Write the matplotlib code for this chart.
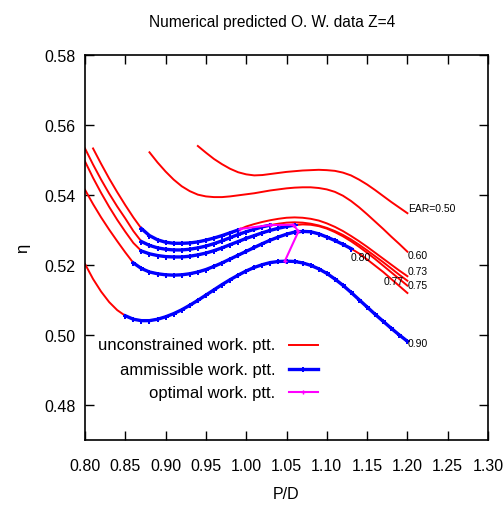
import matplotlib
matplotlib.use("Agg")
import matplotlib.pyplot as plt
from matplotlib import font_manager
from matplotlib.lines import Line2D
import numpy as np

# ---------------- data ----------------
# EAR = 0.50
pd_050 = [0.94, 0.95, 0.96, 0.97, 0.98, 0.99, 1.00, 1.01, 1.02, 1.03, 1.04, 1.05, 1.06, 1.07,
          1.08, 1.09, 1.10, 1.11, 1.12, 1.13, 1.14, 1.15, 1.16, 1.17, 1.18, 1.19, 1.20]
eta_050 = [0.5540, 0.5521, 0.5503, 0.5488, 0.5475, 0.5465, 0.5459, 0.5456, 0.5457, 0.5460,
           0.5463, 0.5466, 0.5468, 0.5470, 0.5471, 0.5472, 0.5471, 0.5469, 0.5464, 0.5456,
           0.5444, 0.5430, 0.5414, 0.5397, 0.5380, 0.5364, 0.5348]

# EAR = 0.60
pd_060 = [0.88, 0.89, 0.90, 0.91, 0.92, 0.93, 0.94, 0.95, 0.96, 0.97, 0.98, 0.99, 1.00, 1.01,
          1.02, 1.03, 1.04, 1.05, 1.06, 1.07, 1.08, 1.09, 1.10, 1.11, 1.12, 1.13, 1.14, 1.15,
          1.16, 1.17, 1.18, 1.19, 1.20]
eta_060 = [0.5522, 0.5493, 0.5467, 0.5444, 0.5425, 0.5411, 0.5401, 0.5396, 0.5394, 0.5394,
           0.5396, 0.5399, 0.5402, 0.5405, 0.5409, 0.5413, 0.5416, 0.5419, 0.5421, 0.5422,
           0.5422, 0.5420, 0.5416, 0.5409, 0.5398, 0.5383, 0.5365, 0.5345, 0.5324, 0.5303,
           0.5281, 0.5260, 0.5238]

pd_full = [0.80, 0.81, 0.82, 0.83, 0.84, 0.85, 0.86, 0.87, 0.88, 0.89, 0.90, 0.91, 0.92, 0.93,
           0.94, 0.95, 0.96, 0.97, 0.98, 0.99, 1.00, 1.01, 1.02, 1.03, 1.04, 1.05, 1.06, 1.07,
           1.08, 1.09, 1.10, 1.11, 1.12, 1.13, 1.14, 1.15, 1.16, 1.17, 1.18, 1.19, 1.20]

# EAR = 0.73 (starts at 0.81)
eta_073 = [np.nan, 0.5533, 0.5489, 0.5447, 0.5408, 0.5371, 0.5336, 0.5304, 0.5284, 0.5272,
           0.5265, 0.5262, 0.5262, 0.5263, 0.5266, 0.5271, 0.5277, 0.5284, 0.5292, 0.5300,
           0.5310, 0.5317, 0.5323, 0.5328, 0.5332, 0.5335, 0.5336, 0.5335, 0.5332, 0.5327,
           0.5319, 0.5309, 0.5297, 0.5283, 0.5268, 0.5252, 0.5235, 0.5218, 0.5201, 0.5184,
           0.5168]
# EAR = 0.75
eta_075 = [0.5533, 0.5487, 0.5444, 0.5404, 0.5367, 0.5333, 0.5297, 0.5267, 0.5256, 0.5249,
           0.5245, 0.5243, 0.5243, 0.5245, 0.5249, 0.5254, 0.5261, 0.5269, 0.5278, 0.5287,
           0.5295, 0.5302, 0.5309, 0.5314, 0.5318, 0.5321, 0.5322, 0.5321, 0.5318, 0.5313,
           0.5306, 0.5297, 0.5286, 0.5273, 0.5258, 0.5242, 0.5225, 0.5208, 0.5190, 0.5172,
           0.5155]
# EAR = 0.77
eta_077 = [0.5496, 0.5449, 0.5406, 0.5366, 0.5329, 0.5295, 0.5263, 0.5240, 0.5232, 0.5227,
           0.5224, 0.5223, 0.5223, 0.5225, 0.5229, 0.5234, 0.5241, 0.5249, 0.5258, 0.5267,
           0.5276, 0.5284, 0.5292, 0.5299, 0.5305, 0.5310, 0.5314, 0.5316, 0.5315, 0.5311,
           0.5304, 0.5294, 0.5282, 0.5268, 0.5252, 0.5235, 0.5217, 0.5198, 0.5179, 0.5160,
           0.5141]
# EAR = 0.80
eta_080 = [0.5415, 0.5374, 0.5336, 0.5301, 0.5268, 0.5236, 0.5206, 0.5190, 0.5180, 0.5175,
           0.5172, 0.5171, 0.5172, 0.5175, 0.5180, 0.5187, 0.5196, 0.5206, 0.5217, 0.5228,
           0.5239, 0.5250, 0.5261, 0.5271, 0.5280, 0.5288, 0.5294, 0.5296, 0.5295, 0.5289,
           0.5280, 0.5270, 0.5259, 0.5247, 0.5233, 0.5216, 0.5198, 0.5180, 0.5160, 0.5140,
           0.5120]
# EAR = 0.90
eta_090 = [0.5203, 0.5160, 0.5124, 0.5094, 0.5071, 0.5055, 0.5045, 0.5041, 0.5041, 0.5045,
           0.5052, 0.5061, 0.5072, 0.5085, 0.5099, 0.5114, 0.5129, 0.5144, 0.5158, 0.5171,
           0.5183, 0.5193, 0.5201, 0.5207, 0.5210, 0.5211, 0.5210, 0.5206, 0.5199, 0.5189,
           0.5176, 0.5160, 0.5142, 0.5122, 0.5101, 0.5080, 0.5059, 0.5039, 0.5019, 0.5000,
           0.4982]

# admissible P/D range for each EAR (low, high)
adm_073 = (0.87, 0.99)
adm_075 = (0.87, 1.03)
adm_077 = (0.87, 1.06)
adm_080 = (0.86, 1.13)
adm_090 = (0.85, 1.20)

# optimal working points
opt_pd = [0.9923, 1.0295, 1.0585, 1.0648, 1.0481]
opt_eta = [0.5303, 0.5314, 0.5315, 0.5296, 0.5212]

ear_labels = ["EAR=0.50", "0.60", "0.73", "0.75", "0.77", "0.80", "0.90"]
label_pd = [1.2007, 1.2007, 1.2007, 1.2007, 1.171, 1.129, 1.2007]
label_eta = [0.5363, 0.5229, 0.5183, 0.5143, 0.5154, 0.5223, 0.4977]

x_ticks = [0.80, 0.85, 0.90, 0.95, 1.00, 1.05, 1.10, 1.15, 1.20, 1.25, 1.30]
y_ticks = [0.48, 0.50, 0.52, 0.54, 0.56, 0.58]

legend_texts = ["unconstrained work. ptt.", "ammissible work. ptt.", "optimal work. ptt."]

# ---------------- style ----------------
def pick_font(cands):
    for c in cands:
        try:
            font_manager.findfont(c, fallback_to_default=False)
            return c
        except Exception:
            pass
    return "DejaVu Sans"

FONT = pick_font(["Liberation Sans", "DejaVu Sans"])
plt.rcParams['font.family'] = [FONT, 'DejaVu Sans']

RED = "#ff0000"
BLUE = "#0000ff"
MAG = "#ff00ff"

fig = plt.figure(figsize=(5.04, 5.10), dpi=100)
ax = fig.add_axes([85/504, 1 - 441/510, 403/504, 385/510])

def draw(pdv, etav, adm):
    pdv = np.asarray(pdv, float)
    etav = np.asarray(etav, float)
    ax.plot(pdv, etav, color=RED, lw=1.4, zorder=2)
    if adm is not None:
        m = (pdv >= adm[0] - 1e-9) & (pdv <= adm[1] + 1e-9)
        ax.plot(pdv[m], etav[m], color=BLUE, lw=2.4, marker='P', ms=3.6,
                markeredgewidth=0, zorder=3)

draw(pd_050, eta_050, None)
draw(pd_060, eta_060, None)
draw(pd_full, eta_073, adm_073)
draw(pd_full, eta_075, adm_075)
draw(pd_full, eta_077, adm_077)
draw(pd_full, eta_080, adm_080)
draw(pd_full, eta_090, adm_090)

ax.plot(opt_pd, opt_eta, color=MAG, lw=1.5, marker='P', ms=3.0, markeredgewidth=0, zorder=4)

for t, xx, yy in zip(ear_labels, label_pd, label_eta):
    ax.text(xx, yy, t, fontsize=7.5, ha='left', va='center', color='black')

ax.set_xlim(0.80, 1.30)
ax.set_ylim(0.47, 0.58)
ax.set_xticks(x_ticks)
ax.set_xticklabels([f"{v:.2f}" for v in x_ticks])
ax.set_yticks(y_ticks)
ax.set_yticklabels([f"{v:.2f}" for v in y_ticks])
ax.tick_params(direction='in', length=6.5, width=1.0, top=True, right=True,
               labelsize=11.5, colors='black')
ax.tick_params(axis='y', pad=7)
ax.tick_params(axis='x', pad=13)
for s in ax.spines.values():
    s.set_linewidth(1.2)

ax.set_xlabel("P/D", fontsize=11.5, labelpad=9)
ax.set_ylabel("η", fontsize=12, labelpad=10)
fig.text(272/504, 1 - 22/510, "Numerical predicted O. W. data Z=4", fontsize=11.2,
         ha='center', va='center')

# legend (gnuplot style: right-aligned text, sample after it)
leg_y = [0.2468, 0.1844, 0.1238]
leg_styles = [dict(color=RED, lw=1.4),
              dict(color=BLUE, lw=2.4, marker='P', ms=3.6, markeredgewidth=0, markevery=[1]),
              dict(color=MAG, lw=1.5, marker='P', ms=3.0, markeredgewidth=0, markevery=[1])]
for t, yy, st in zip(legend_texts, leg_y, leg_styles):
    ax.text(0.4715, yy, t, transform=ax.transAxes, fontsize=12, ha='right', va='center')
    ax.add_line(Line2D([0.505, 0.542, 0.579], [yy, yy, yy], transform=ax.transAxes, **st))

fig.savefig("out.png", dpi=100)
